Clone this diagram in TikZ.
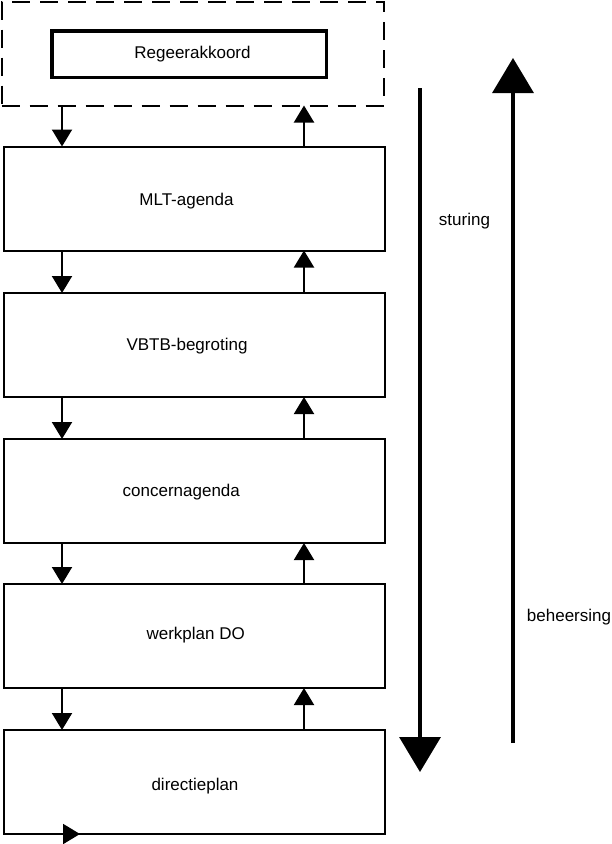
\documentclass[tikz,border=0pt]{standalone}
\usepackage{fontspec}
\setmainfont{Liberation Sans}
\usetikzlibrary{arrows.meta}
\begin{document}
\begin{tikzpicture}[x=1pt,y=-1pt,
  box/.style={draw, line width=2pt, minimum width=381pt, minimum height=104pt, inner sep=0pt, outer sep=0pt},
  sarrow/.style={line width=2pt, -{Triangle[width=20pt,length=17pt]}},
  barrow/.style={line width=3.5pt, -{Triangle[width=41pt,length=35pt]}},
  lbl/.style={inner sep=0pt, anchor=base, font=\fontsize{17}{20}\selectfont}]
\useasboundingbox (0,0) rectangle (612,844);
\node[draw, line width=2pt, dash pattern=on 18pt off 10pt, minimum width=382pt, minimum height=104pt, inner sep=0pt, outer sep=0pt] (dash) at (192.5,53.5) {};
\node[draw, line width=3.5pt, minimum width=274.5pt, minimum height=46.5pt, inner sep=0pt, outer sep=0pt] (ra) at (189,54) {};
\node[box] (mlt) at (194.5,198.5) {};
\node[box] (vbtb) at (194.5,345) {};
\node[box] (con) at (194.5,491) {};
\node[box] (wp) at (194.5,636) {};
\node[box] (dp) at (194.5,782) {};
\node[lbl] (ratext) at (192.5,58.3) {Regeerakkoord};
\node[lbl] (mlttext) at (186.5,205.7) {MLT-agenda};
\node[lbl] (vbtbtext) at (187,350.7) {VBTB-begroting};
\node[lbl] (context) at (181.3,496.5) {concernagenda};
\node[lbl] (wptext) at (195.7,639) {werkplan DO};
\node[lbl] (dptext) at (195,790) {directieplan};
\foreach \a/\b in {dash/mlt, mlt/vbtb, vbtb/con, con/wp, wp/dp}{
  \draw[sarrow] (\a.south -| 62,0) -- (\b.north -| 62,0);
  \draw[sarrow] (\b.north -| 304,0) -- (\a.south -| 304,0);
}
\coordinate (dpe) at (80,0);
\draw[sarrow] (dp.south west) -- (dp.south -| dpe);
\coordinate (st1) at (420,88);
\coordinate (st2) at (420,772);
\coordinate (be1) at (513,743);
\coordinate (be2) at (513,58);
\draw[barrow] (st1) -- (st2);
\draw[barrow] (be1) -- (be2);
\node[lbl] (sturing) at (464.5,225.7) {sturing};
\node[lbl] (beheersing) at (569,621) {beheersing};
\end{tikzpicture}
\end{document}
